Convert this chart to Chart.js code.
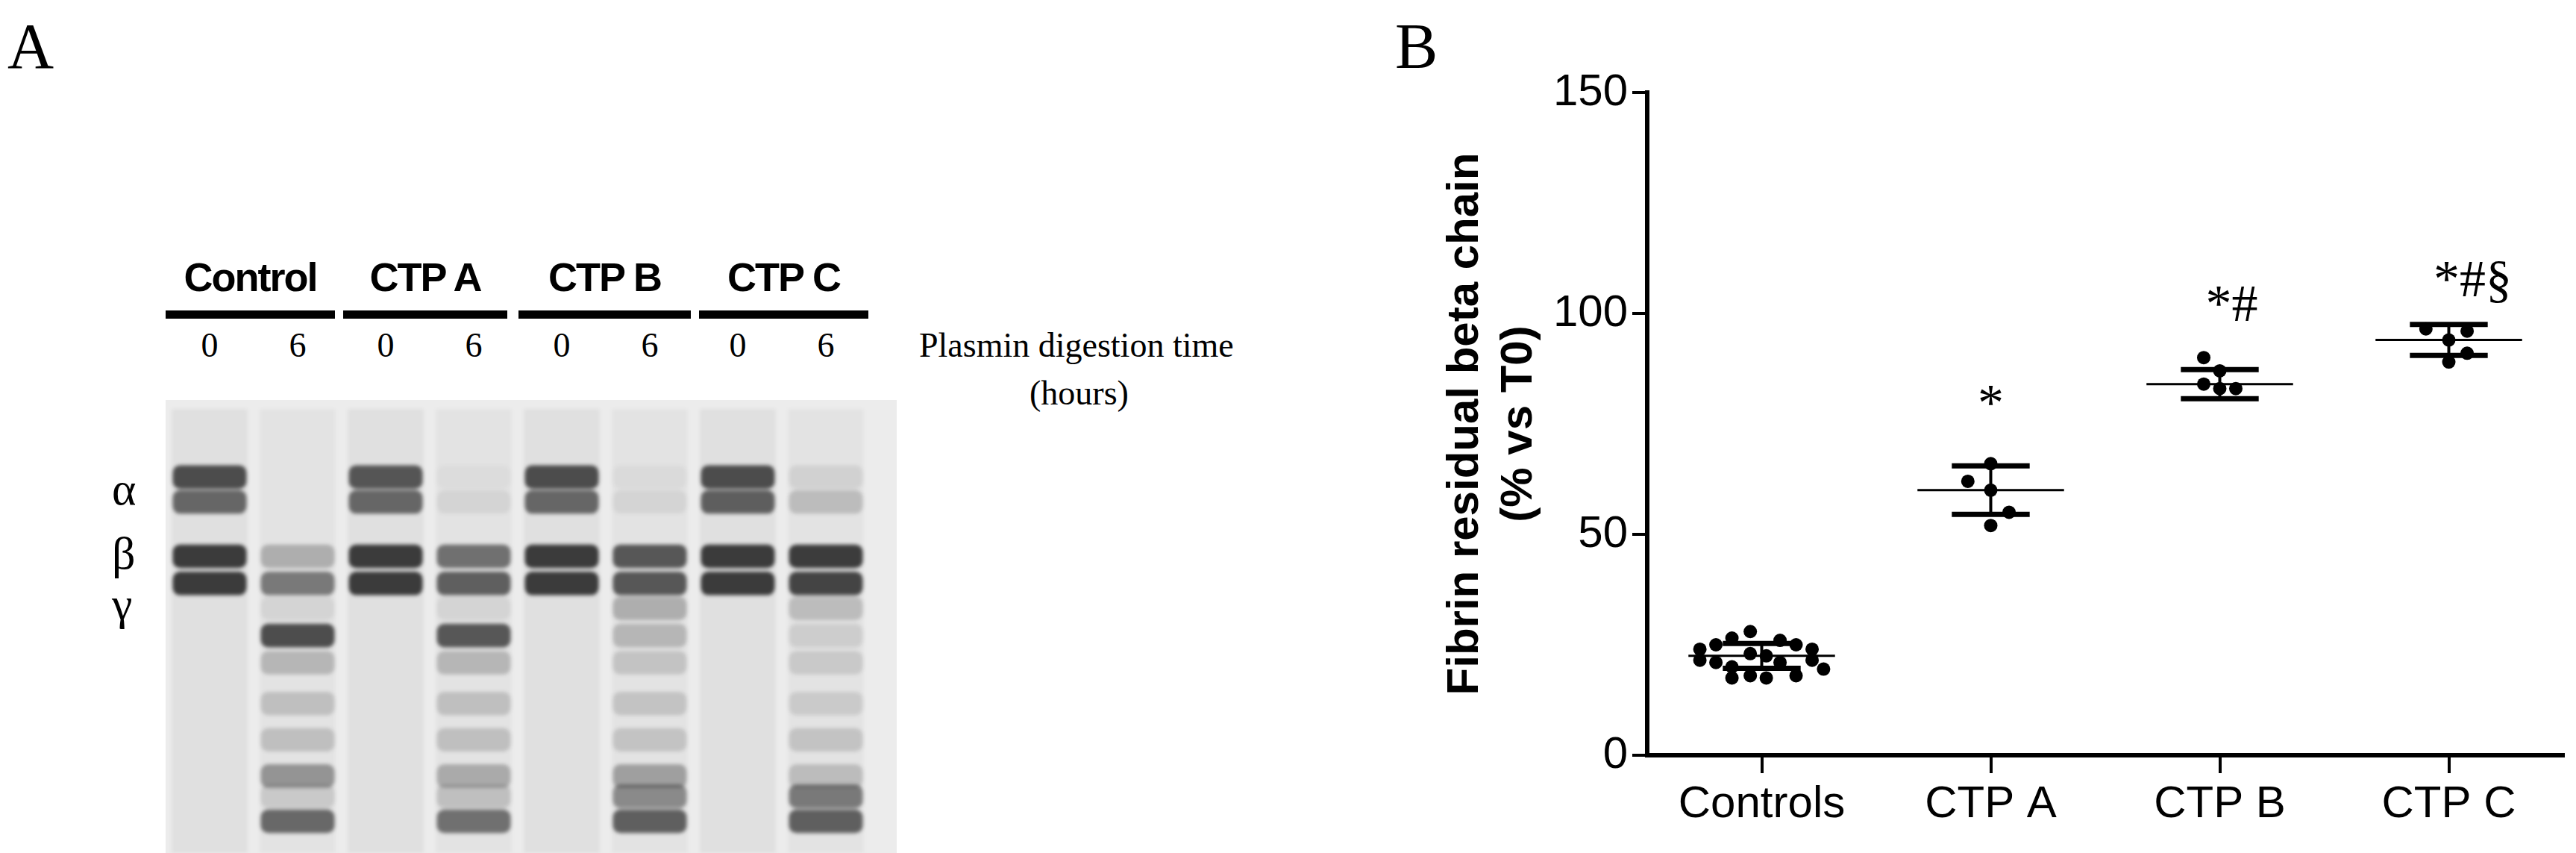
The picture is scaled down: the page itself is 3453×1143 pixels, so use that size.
<!DOCTYPE html>
<html><head><meta charset="utf-8">
<script src="https://cdn.jsdelivr.net/npm/chart.js@4"></script>
<style>
body{margin:0;width:3453px;height:1143px;background:#fff;position:relative;overflow:hidden}
.t{position:absolute;white-space:nowrap;color:#000}
.serif{font-family:"Liberation Serif","DejaVu Serif",serif}
.sans{font-family:"Liberation Sans",Arial,sans-serif;font-weight:bold}
.bar{position:absolute;height:11px;background:#000}
#gelbg{position:absolute;left:222px;top:536px;width:980px;height:607px;background:#ececec}
#gel{position:absolute;left:222px;top:536px;filter:blur(2.5px)}
#plotB{position:absolute;left:1700px;top:0}
</style></head><body>
<div class="t serif" style="left:10px;top:12px;font-size:86px">A</div>
<div class="t serif" style="left:1870px;top:12px;font-size:86px">B</div>
<div id="labelsA"></div>
<div class="t serif" style="left:1232px;top:436px;font-size:46px">Plasmin digestion time</div>
<div class="t serif" style="left:1380px;top:500px;font-size:46px">(hours)</div>
<div class="t serif" style="left:150px;top:620px;font-size:62px">α</div>
<div class="t serif" style="left:150px;top:706px;font-size:62px">β</div>
<div class="t serif" style="left:150px;top:774px;font-size:62px">γ</div>
<div id="gelbg"></div>
<canvas id="gel" width="944" height="607" style="width:944px;height:607px"></canvas>
<canvas id="plotB" width="1753" height="1143" style="width:1753px;height:1143px"></canvas>
<script>
// ---------- Panel A data ----------
const groups = ["Control","CTP A","CTP B","CTP C"];
const laneTimes = ["0","6","0","6","0","6","0","6"];
// band migration positions (0 = top of gel, 100 = bottom)
const bandPos = [17, 22.5, 34.5, 40.5, 46, 52, 58, 67, 75, 83, 87.5, 93];
// intensity per band per lane (C0,C6,A0,A6,B0,B6,CC0,CC6)
const bandIntensity = [
  [0.85,0.00,0.80,0.04,0.85,0.05,0.85,0.10],
  [0.70,0.00,0.70,0.08,0.70,0.08,0.75,0.22],
  [0.95,0.30,0.95,0.65,0.95,0.80,0.95,0.95],
  [0.95,0.60,0.95,0.75,0.95,0.80,0.95,0.90],
  [0.00,0.08,0.00,0.08,0.00,0.30,0.00,0.22],
  [0.00,0.85,0.00,0.80,0.00,0.25,0.00,0.12],
  [0.00,0.25,0.00,0.25,0.00,0.18,0.00,0.15],
  [0.00,0.20,0.00,0.20,0.00,0.18,0.00,0.14],
  [0.00,0.20,0.00,0.20,0.00,0.18,0.00,0.18],
  [0.00,0.45,0.00,0.32,0.00,0.38,0.00,0.22],
  [0.00,0.15,0.00,0.20,0.00,0.50,0.00,0.60],
  [0.00,0.70,0.00,0.65,0.00,0.75,0.00,0.75]
];

// ---------- Panel B data ----------
const categories = ["Controls","CTP A","CTP B","CTP C"];
const yTicks = [0,50,100,150];
const controlsValues = [24,21.5,25,21,26.5,20,17.5,28,23,18,22.5,17.5,26,21,25,18,24,21.5,19.5];
const controlsJitter = [-0.27,-0.27,-0.2,-0.2,-0.13,-0.13,-0.13,-0.05,-0.05,-0.05,0.02,0.02,0.08,0.08,0.15,0.15,0.22,0.22,0.27];
const ctpAValues = [66,62,60,55,52];
const ctpAJitter = [0,-0.1,0,0.08,0];
const ctpBValues = [90,87,84,83,83];
const ctpBJitter = [-0.07,0,-0.07,0.07,0];
const ctpCValues = [96.5,96,94,91,89];
const ctpCJitter = [-0.1,0.08,0,0.08,0];
const means = [22.5,60,84,94];
const sds = [2.8,5.5,3.3,3.5];
const significance = ["","*","*#","*#§"];
const sigLevel = [0,79,101.5,107];

// ---------- Panel A text ----------
const la = document.getElementById('labelsA');
const groupSpans = [[222,449],[460,680],[695,926],[937,1164]];
groups.forEach((g,i)=>{
  const [a,b]=groupSpans[i];
  la.insertAdjacentHTML('beforeend',`<div class="t sans" style="left:${a}px;width:${b-a}px;text-align:center;top:340px;font-size:54px;letter-spacing:-2px">${g}</div><div class="bar" style="left:${a}px;width:${b-a}px;top:416px"></div>`);
});
laneTimes.forEach((t,i)=>{
  const cx = 222 + 59 + i*118;
  la.insertAdjacentHTML('beforeend',`<div class="t serif" style="left:${cx-20}px;width:40px;text-align:center;top:436px;font-size:46px">${t}</div>`);
});

// ---------- Gel chart ----------
const gelDatasets = [];
gelDatasets.push({data: laneTimes.map(()=>[2,100]), backgroundColor: laneTimes.map(t=> t==="0"?'rgba(0,0,0,0.05)':'rgba(0,0,0,0.035)'), grouped:false, barPercentage:0.86, categoryPercentage:1, borderWidth:0});
bandPos.forEach((p,b)=>{
  gelDatasets.push({
    data: laneTimes.map(()=>[p-2.6,p+2.6]),
    backgroundColor: bandIntensity[b].map(v=>`rgba(20,20,20,${(v*0.85).toFixed(3)})`),
    grouped:false, barPercentage:0.84, categoryPercentage:1, borderWidth:0, borderSkipped:false, borderRadius:10
  });
});
new Chart(document.getElementById('gel'),{
  type:'bar',
  data:{labels:laneTimes.map((t,i)=>'L'+i), datasets:gelDatasets},
  options:{responsive:false,animation:false,devicePixelRatio:1,
    plugins:{legend:{display:false},tooltip:{enabled:false}},
    layout:{padding:0},
    scales:{x:{display:false},y:{display:false,min:0,max:100,reverse:true}}}
});

// ---------- Panel B chart ----------
const pts = (vals,jit,c)=>vals.map((v,i)=>({x:c+jit[i],y:v}));
const allPoints = [].concat(pts(controlsValues,controlsJitter,0),pts(ctpAValues,ctpAJitter,1),pts(ctpBValues,ctpBJitter,2),pts(ctpCValues,ctpCJitter,3));
const errPlugin = {
  id:'err',
  afterDatasetsDraw(chart){
    const {ctx,scales:{x,y}} = chart;
    ctx.save(); ctx.strokeStyle='#000';
    means.forEach((m,i)=>{
      const cx=x.getPixelForValue(i), w=x.getPixelForValue(i+0.32)-cx, ws=x.getPixelForValue(i+0.17)-cx;
      ctx.lineWidth=3; ctx.beginPath(); ctx.moveTo(cx-w,y.getPixelForValue(m)); ctx.lineTo(cx+w,y.getPixelForValue(m)); ctx.stroke();
      ctx.lineWidth=4; ctx.beginPath(); ctx.moveTo(cx,y.getPixelForValue(m-sds[i])); ctx.lineTo(cx,y.getPixelForValue(m+sds[i])); ctx.stroke();
      ctx.lineWidth=7;
      [m-sds[i],m+sds[i]].forEach(v=>{ctx.beginPath();ctx.moveTo(cx-ws,y.getPixelForValue(v));ctx.lineTo(cx+ws,y.getPixelForValue(v));ctx.stroke();});
      if(significance[i]){
        ctx.fillStyle='#000'; ctx.font='70px "Liberation Serif", serif'; ctx.textAlign='center'; ctx.textBaseline='middle';
        ctx.fillText(significance[i], cx+ (significance[i].length>1? (significance[i].length-1)*16:0), y.getPixelForValue(sigLevel[i]));
      }
    });
    ctx.restore();
  }
};
new Chart(document.getElementById('plotB'),{
  type:'scatter',
  data:{datasets:[{data:allPoints,pointRadius:9,pointBackgroundColor:'#000',pointBorderColor:'#000',pointBorderWidth:0,showLine:false}]},
  options:{responsive:false,animation:false,devicePixelRatio:1,
    plugins:{legend:{display:false},tooltip:{enabled:false}},
    layout:{padding:{top:124,right:17,left:228,bottom:0}},
    scales:{
      x:{type:'linear',min:-0.5,max:3.5,
        afterBuildTicks(s){s.ticks=categories.map((c,i)=>({value:i}));},
        afterFit(s){s.height=131;},
        ticks:{callback:(v)=>categories[v],color:'#000',font:{family:'"Liberation Sans",Arial',size:60},padding:6,maxRotation:0},
        grid:{drawOnChartArea:false,drawTicks:true,tickLength:24,color:'#000',lineWidth:4},
        border:{color:'#000',width:6}},
      y:{min:0,max:150,
        afterBuildTicks(s){s.ticks=yTicks.map(v=>({value:v}));},
        afterFit(s){s.width=280;},
        ticks:{color:'#000',font:{family:'"Liberation Sans",Arial',size:60},padding:6},
        grid:{drawOnChartArea:false,drawTicks:true,tickLength:20,color:'#000',lineWidth:4},
        border:{color:'#000',width:6},
        title:{display:true,text:['Fibrin residual beta chain','(% vs T0)'],color:'#000',font:{family:'"Liberation Sans",Arial',size:60,weight:'bold'},padding:0}}
    }},
  plugins:[errPlugin]
});
</script>
</body></html>
